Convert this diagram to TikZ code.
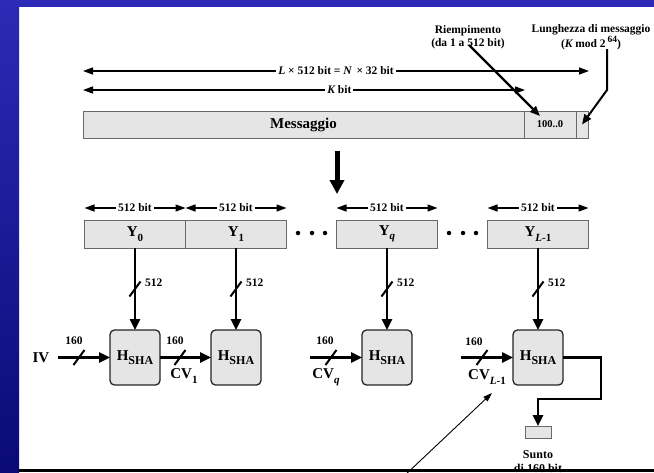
\documentclass[tikz,border=0pt]{standalone}
\usepackage{fontspec}
\setmainfont{Liberation Serif}
\usetikzlibrary{arrows.meta,calc}
\definecolor{bluetop}{RGB}{44,42,182}
\definecolor{bluebot}{RGB}{10,10,118}
\definecolor{boxgray}{RGB}{229,229,229}
\definecolor{edgegray}{RGB}{105,105,105}
\newcommand\fsz[2]{\fontsize{#1}{#2}\selectfont}
\newcommand\lowsub[1]{\raisebox{-0.3em}{\fsz{11}{11}#1}}
\newcommand\lowsubb[1]{\raisebox{-0.3em}{\fsz{12}{12}#1}}
\newcommand\slashmark[1]{\draw[slashline] ($(#1)+(-5.5,7.5)$) -- ($(#1)+(5.5,-7.5)$);}
\begin{document}
\begin{tikzpicture}[x=1pt,y=-1pt,
 every node/.style={inner sep=0pt, outer sep=0pt},
 smalltxt/.style={font=\bfseries\fsz{11.5}{13}},
 bigtxt/.style={font=\bfseries\fsz{15}{17}},
 lbl/.style={smalltxt, fill=white, inner xsep=2pt, inner ysep=1.5pt},
 segbox/.style={draw=edgegray, fill=boxgray, line width=1pt, minimum height=27pt},
 hbox/.style={draw=black!85, fill=boxgray, line width=1.3pt, rounded corners=4.5pt, minimum width=50pt, minimum height=55pt, bigtxt},
 dimarr/.style={line width=1.3pt, {Triangle[length=10pt,width=7pt]}-{Triangle[length=10pt,width=7pt]}},
 flowarr/.style={line width=2.5pt, -{Triangle[length=11pt,width=10pt]}},
 slashline/.style={line width=2pt},
 dotc/.style={circle, fill=black, minimum size=4.5pt},
]
\useasboundingbox (0,0) rectangle (654,472);
\fill[white] (0,0) rectangle (654,472);

% top labels
\node[smalltxt, align=center] (riemp) at (468,37) {Riempimento\\(da 1 a 512 bit)};
\node[smalltxt, align=center] (lung) at (591,37) {Lunghezza di messaggio\\({\itshape K} mod 2\,\raisebox{0.45em}{\fsz{9.5}{10}64})};

% dimension lines
\coordinate (La) at (83,71); \coordinate (Lb) at (589,71);
\draw[dimarr] (La) -- node[lbl, pos=0.5]{{\itshape L} × 512 bit = {\itshape N}\, × 32 bit} (Lb);
\coordinate (Ka) at (83,90); \coordinate (Kb) at (525,90);
\draw[dimarr] (Ka) -- node[lbl, pos=0.58]{{\itshape K} bit} (Kb);

% message bar
\node[segbox, minimum width=441pt, bigtxt] (msg) at (303.5,124.5) {Messaggio};
\node[segbox, minimum width=52pt, font=\bfseries\fsz{10.5}{12}] (pad) at (550,124.5) {100..0};
\node[segbox, minimum width=12pt] (lenf) at (582,124.5) {};

\coordinate (rst) at (469,45); \coordinate (rtip) at (540,116);
\draw[line width=2.2pt, -{Triangle[length=10pt,width=8pt]}] (rst) -- (rtip);
\coordinate (lst) at (607,49); \coordinate (lbend) at (607,90);
\draw[line width=2pt, -{Triangle[length=10pt,width=8pt]}] (lst) -- (lbend) -- (lenf.center);

% big arrow
\coordinate (ba) at (337,151); \coordinate (bb) at (337,194);
\draw[line width=5pt, -{Triangle[length=14pt,width=14pt]}] (ba) -- (bb);

% Y boxes
\node[segbox, minimum width=101pt, minimum height=28pt, bigtxt] (y0) at (135,234) {Y\lowsub{0}};
\node[segbox, minimum width=101pt, minimum height=28pt, bigtxt] (y1) at (236,234) {Y\lowsub{1}};
\node[segbox, minimum width=101pt, minimum height=28pt, bigtxt] (yq) at (387,234) {Y\lowsub{\itshape q}};
\node[segbox, minimum width=101pt, minimum height=28pt, bigtxt] (yl) at (538,234) {Y\lowsub{{\itshape L}-1}};

\foreach \b in {y0,y1,yq,yl}{
  \draw[dimarr] ([yshift=12pt]\b.north west) -- node[lbl]{512 bit} ([yshift=12pt]\b.north east);
}

\node[dotc] (da1) at (298,233) {};
\node[dotc] (da2) at (312,233) {};
\node[dotc] (da3) at (325,233) {};
\node[dotc] (db1) at (449,233) {};
\node[dotc] (db2) at (463,233) {};
\node[dotc] (db3) at (476,233) {};

% hash boxes
\node[hbox] (h0) at (135,357.5) {H\lowsubb{SHA}};
\node[hbox] (h1) at (236,357.5) {H\lowsubb{SHA}};
\node[hbox] (h2) at (387,357.5) {H\lowsubb{SHA}};
\node[hbox] (h3) at (538,357.5) {H\lowsubb{SHA}};

% vertical inputs
\foreach \y/\h [count=\i] in {y0/h0,y1/h1,yq/h2,yl/h3}{
  \draw[flowarr] (\y.south) -- (\h.north);
  \coordinate (sv\i) at ($(\y.south)!0.5!(\h.north)$);
  \slashmark{sv\i}
  \node[smalltxt, anchor=west] (n\i) at ([xshift=10pt,yshift=6pt]sv\i) {512};
}

% chaining values
\node[bigtxt] (iv) at (41,357.5) {IV};
\coordinate (ivs) at (58,357.5);
\draw[flowarr] (ivs) -- (h0.west);
\coordinate (s0) at (79,357.5); \slashmark{s0}
\node[smalltxt] (t0) at (74,341) {160};

\draw[flowarr] (h0.east) -- (h1.west);
\coordinate (s1) at (180,357.5); \slashmark{s1}
\node[smalltxt] (t1) at (175,341) {160};
\node[bigtxt] (cv1) at (184,376) {CV\lowsub{1}};

\coordinate (c2) at (310,357.5);
\draw[flowarr] (c2) -- (h2.west);
\coordinate (s2) at (331,357.5); \slashmark{s2}
\node[smalltxt] (t2) at (325,341) {160};
\node[bigtxt] (cvq) at (326,377) {CV\lowsub{\itshape q}};

\coordinate (c3) at (461,357.5);
\draw[flowarr] (c3) -- (h3.west);
\coordinate (s3) at (482,357.5); \slashmark{s3}
\node[smalltxt] (t3) at (474,342) {160};
\node[bigtxt] (cvl) at (487,377) {CV\lowsub{{\itshape L}-1}};

% output
\node[draw=edgegray, fill=boxgray, line width=0.8pt, minimum width=26pt, minimum height=12pt] (sunto) at (538,432) {};
\coordinate (o1) at (601,399);
\draw[flowarr] (h3.east) -| (o1) -| (sunto.north);
\node[align=center, anchor=north, font=\bfseries\fsz{12}{14}] (stxt) at (538,451) {Sunto\\di 160 bit};

\coordinate (ta) at (403,477); \coordinate (tb) at (492,393);
\draw[line width=0.9pt, -{Triangle[length=9pt,width=6pt]}] (ta) -- (tb);

% frame
\shade[top color=bluetop, bottom color=bluebot] (0,0) rectangle (19,472);
\fill[bluetop] (0,0) rectangle (654,7);
\fill[black] (19,469) rectangle (654,472);
\end{tikzpicture}
\end{document}
